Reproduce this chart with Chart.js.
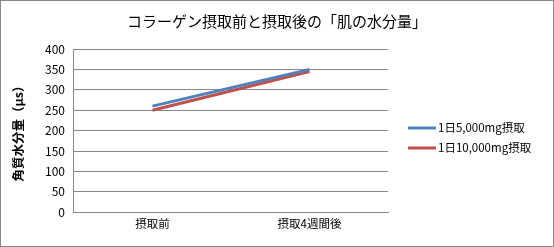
<!DOCTYPE html>
<html>
<head>
<meta charset="utf-8">
<script src="https://cdn.jsdelivr.net/npm/chart.js@4"></script>
<style>
  html, body { margin: 0; padding: 0; background: #fff; }
  #wrap { position: relative; width: 554px; height: 247px; box-sizing: border-box; border: 1px solid #888; }
</style>
</head>
<body>
<div id="wrap"><canvas id="waterChart" width="552" height="245"></canvas></div>
<script>
// data
const categories = ['摂取前', '摂取4週間後'];
const series5000 = [260, 350];
const series10000 = [250, 345];
const seriesNames = ['1日5,000mg摂取', '1日10,000mg摂取'];
const chartTitle = 'コラーゲン摂取前と摂取後の「肌の水分量」';

const jpFont = "'Noto Sans CJK JP', 'Noto Sans', sans-serif";

// title centred on the whole frame + legend on the right, Excel style
const frameText = {
    id: 'frameText',
    afterDraw(chart) {
        const c = chart.ctx;
        c.save();
        c.fillStyle = '#000';
        c.font = '15px ' + jpFont;
        c.textAlign = 'center';
        c.textBaseline = 'middle';
        c.fillText(chartTitle, chart.width / 2, 20);

        const x0 = chart.chartArea.right + 20;
        let y = 127;
        c.font = '11.5px ' + jpFont;
        c.textAlign = 'left';
        chart.data.datasets.forEach(ds => {
            c.strokeStyle = ds.borderColor;
            c.lineWidth = 3;
            c.beginPath();
            c.moveTo(x0, y);
            c.lineTo(x0 + 28, y);
            c.stroke();
            c.fillText(ds.label, x0 + 30, y);
            y += 20;
        });
        c.restore();
    }
};

const ctx = document.getElementById('waterChart').getContext('2d');

const waterChart = new Chart(ctx, {
    type: 'line',
    data: {
        labels: categories,
        datasets: [{
            label: seriesNames[0],
            data: series5000,
            borderColor: '#4f81bd',
            backgroundColor: '#4f81bd',
            borderWidth: 3,
            pointRadius: 0
        }, {
            label: seriesNames[1],
            data: series10000,
            borderColor: '#c0504d',
            backgroundColor: '#c0504d',
            borderWidth: 3,
            pointRadius: 0
        }]
    },
    plugins: [frameText],
    options: {
        responsive: false,
        animation: false,
        layout: { padding: { top: 48, right: 165, bottom: 10, left: 2 } },
        plugins: {
            legend: { display: false },
            tooltip: { enabled: false }
        },
        scales: {
            x: {
                offset: true,
                grid: { display: false, drawTicks: false },
                border: { color: '#888' },
                ticks: { color: '#000', font: { family: jpFont, size: 11.5 }, padding: 5 }
            },
            y: {
                min: 0,
                max: 400,
                ticks: { stepSize: 50, color: '#000', font: { family: jpFont, size: 12 }, padding: 9 },
                grid: { color: '#888', drawTicks: false },
                border: { color: '#888' },
                title: {
                    display: true,
                    text: '角質水分量（μs）',
                    color: '#000',
                    font: { family: jpFont, size: 12.5, weight: 'bold' },
                    padding: { top: 8, bottom: 10 }
                }
            }
        }
    }
});
</script>
</body>
</html>
